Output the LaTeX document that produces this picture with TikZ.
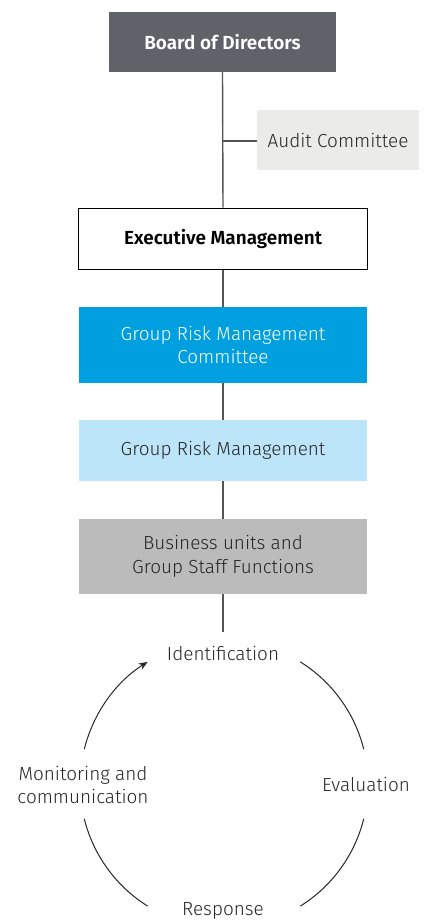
\documentclass[tikz,border=0pt]{standalone}
\usepackage{fontspec}
\setmainfont{Fira Sans}[UprightFont=* Light, BoldFont=* SemiBold]
\usetikzlibrary{arrows.meta}
\definecolor{boardgray}{HTML}{5F6369}
\definecolor{auditgray}{HTML}{EBEBEA}
\definecolor{grmcblue}{HTML}{009FDF}
\definecolor{grmblue}{HTML}{BDE5F9}
\definecolor{busgray}{HTML}{BBBBBB}
\definecolor{txtdark}{HTML}{262626}
\definecolor{linegray}{HTML}{555555}
\tikzset{
  box/.style={rectangle, inner sep=0pt, align=center, font=\fontsize{19}{24}\selectfont, text=txtdark},
  conn/.style={draw=linegray, line width=1.4bp},
  cyc/.style={draw=black!85, line width=1bp},
  cyclabel/.style={inner sep=0pt, align=center, font=\fontsize{19}{24}\selectfont, text=txtdark}
}
\begin{document}
\begin{tikzpicture}[x=1bp,y=1bp]
\useasboundingbox (0,0) rectangle (427,-923);
\node[box, fill=boardgray, text=white, font=\fontsize{19}{24}\bfseries, minimum width=227bp, minimum height=60bp] (board) at (222.5,-42) {Board of Directors};
\node[box, fill=auditgray, minimum width=162bp, minimum height=60bp] (audit) at (338,-140) {Audit Committee};
\node[box, draw=black, line width=1bp, fill=white, text=black, font=\fontsize{19}{24}\bfseries, minimum width=288bp, minimum height=61bp] (exec) at (223,-238.5) {Executive Management};
\node[box, fill=grmcblue, text=white, minimum width=288bp, minimum height=76bp] (grmc) at (223,-345) {Group Risk Management\\Committee};
\node[box, fill=grmblue, minimum width=288bp, minimum height=61bp] (grm) at (223,-450.5) {Group Risk Management};
\node[box, fill=busgray, minimum width=288bp, minimum height=75bp] (bus) at (223,-556.5) {Business units and\\Group Staff Functions};

\node[cyclabel] (ident) at (223,-653) {Identification};
\node[cyclabel] (eval) at (366,-784) {Evaluation};
\node[cyclabel] (resp) at (223,-911) {Response};
\node[cyclabel] (mon) at (83,-785) {Monitoring and\\communication};

\coordinate (tap) at (223,-141);
\coordinate (identtop) at (223,-632);
\draw[conn] (board.south) -- (exec.north);
\draw[conn] (tap) -- (audit.west |- tap);
\draw[conn] (exec.south) -- (grmc.north);
\draw[conn] (grmc.south) -- (grm.north);
\draw[conn] (grm.south) -- (bus.north);
\draw[conn] (bus.south) -- (identtop);

\coordinate (c) at (224,-784);
\draw[cyc] (c) ++(58:144bp) arc[start angle=58, end angle=14, radius=144bp];
\draw[cyc] (c) ++(-14:144bp) arc[start angle=-14, end angle=-58, radius=144bp];
\draw[cyc] (c) ++(-122:144bp) arc[start angle=-122, end angle=-166, radius=144bp];
\draw[cyc, -{Stealth[length=9bp, width=7bp]}] (c) ++(166:144bp) arc[start angle=166, end angle=122, radius=144bp];
\end{tikzpicture}
\end{document}
